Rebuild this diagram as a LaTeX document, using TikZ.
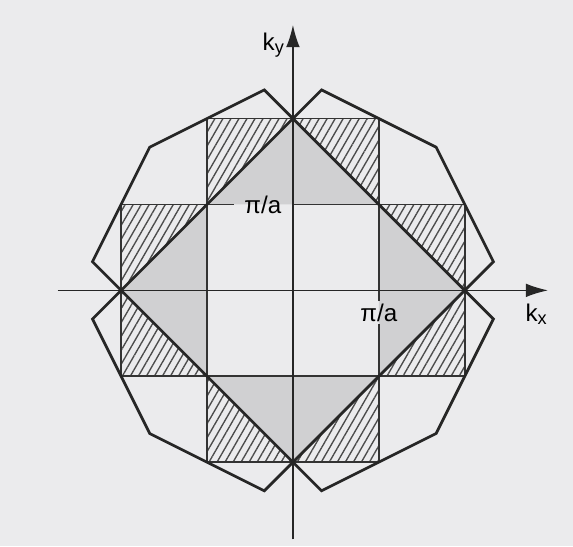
\documentclass[tikz,border=0pt]{standalone}
\usepackage{amsmath,amssymb}
\usepackage{xcolor}
\usepackage{fontspec}
\newfontfamily\lblfont{Liberation Sans}
\usetikzlibrary{arrows.meta, patterns.meta}

\definecolor{paper}{RGB}{235,235,237}
\definecolor{zonegray}{RGB}{208,208,210}

\begin{document}
\begin{tikzpicture}[
    zone/.style={line width=0.9pt, black!85},
    gridline/.style={line width=0.6pt, black!80},
    axis/.style={line width=0.5pt, black!85, -{Latex[length=2.6mm, width=1.6mm]}},
    second/.style={fill=zonegray},
    third/.style={pattern={Lines[angle=60, distance=2.3pt, line width=0.45pt]}, pattern color=black!70},
    lbl/.style={font=\lblfont\footnotesize, inner ysep=0.6pt, inner xsep=3.3pt},
    axlbl/.style={font=\lblfont\footnotesize}
]
\useasboundingbox[fill=paper] (-3.41,-2.98) rectangle (3.26,3.38);

% second zone
\foreach \r in {0,90,180,270}
    \fill[second, rotate=\r] (-1,1) -- (0,2) -- (1,1) -- cycle;

% third zone
\foreach \sx in {-1,1}
    \foreach \sy in {-1,1} {
        \fill[third] (\sx,\sy) -- (\sx,2*\sy) -- (0,2*\sy) -- cycle;
        \fill[third] (\sx,\sy) -- (2*\sx,\sy) -- (2*\sx,0) -- cycle;
    }

\node[lbl] (pia) at (-0.35,1) {π/a};
\node[lbl, inner xsep=1pt] (pib) at (1,-0.26) {π/a};

% square grid
\draw[gridline] (-2,1) -- (pia.west) (pia.east) -- (2,1) (-2,-1) -- (2,-1);
\draw[gridline] (-1,2) -- (-1,-2) (1,2) -- (pib.north) (pib.south) -- (1,-2);
\draw[gridline] (-1,2) -- (1,2) (-1,-2) -- (1,-2) (-2,1) -- (-2,-1) (2,1) -- (2,-1);

% axes
\coordinate (xmin) at (-2.74,0);
\coordinate (xmax) at (2.97,0);
\coordinate (ymin) at (0,-2.90);
\coordinate (ymax) at (0,3.09);
\draw[axis] (xmin) -- (xmax);
\draw[axis] (ymin) -- (ymax);
\node[axlbl] (kx) at (2.84,-0.28) {k\textsubscript{x}};
\node[axlbl] (ky) at (-0.22,2.86) {k\textsubscript{y}};

% zone boundaries
\draw[zone] (0,2) -- (-2,0) -- (0,-2) -- (2,0) -- cycle;
\draw[zone] (0,2) -- (-1/3,7/3) -- (-5/3,5/3) -- (-7/3,1/3) -- (-2,0)
    -- (-7/3,-1/3) -- (-5/3,-5/3) -- (-1/3,-7/3) -- (0,-2)
    -- (1/3,-7/3) -- (5/3,-5/3) -- (7/3,-1/3) -- (2,0)
    -- (7/3,1/3) -- (5/3,5/3) -- (1/3,7/3) -- cycle;
\end{tikzpicture}
\end{document}
